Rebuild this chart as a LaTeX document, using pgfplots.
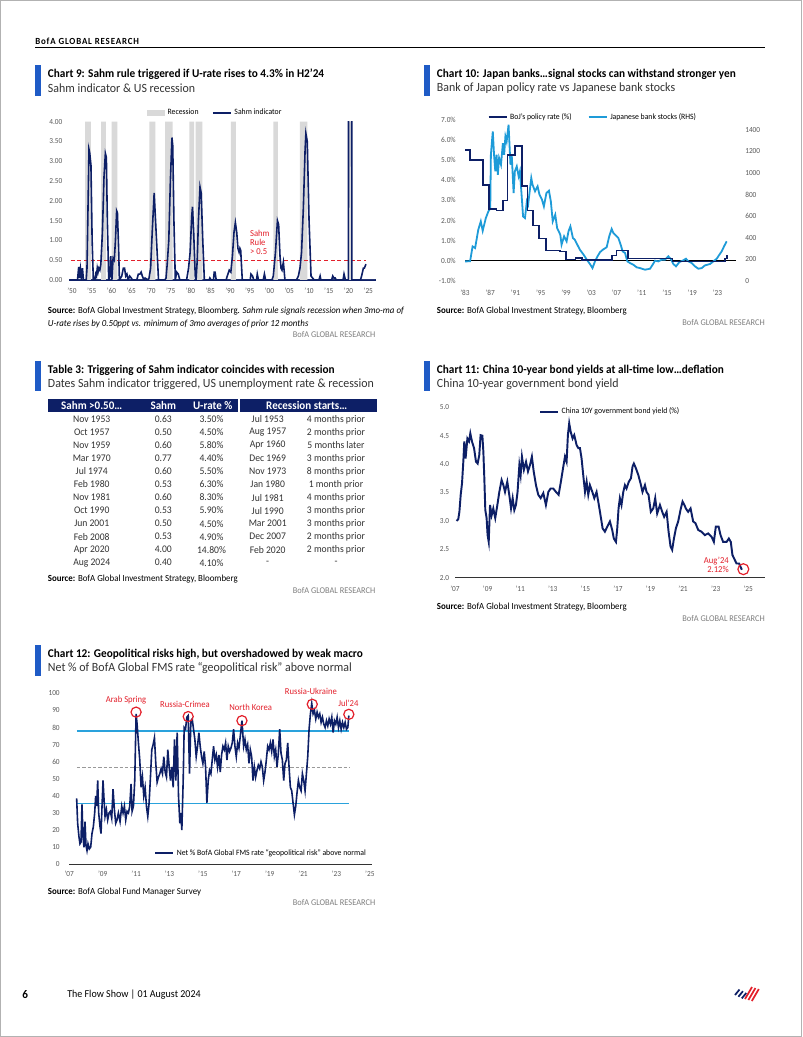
\documentclass[border=0pt]{standalone}
\usepackage{fontspec}
\setmainfont{Carlito}[FakeStretch=0.95]
\usepackage{pgfplots}
\pgfplotsset{compat=1.18}
\definecolor{navy}{HTML}{0D1F66}
\definecolor{accent}{HTML}{1F5BC6}
\definecolor{lblue}{HTML}{1E9BD8}
\definecolor{cyanl}{HTML}{2AA2DC}
\definecolor{bred}{HTML}{E3202B}
\definecolor{recg}{HTML}{D9D9D9}
\definecolor{tickg}{HTML}{595959}
\definecolor{srcg}{HTML}{7F7F7F}
\definecolor{subg}{HTML}{333333}
\definecolor{axg}{HTML}{333333}
\newcommand\ttlfont{\fontsize{8.9}{11}\selectfont\bfseries}
\newcommand\subfont{\fontsize{9.4}{11}\selectfont}
\newcommand\srcfont{\fontsize{7}{9.2}\selectfont}
\newcommand\lf{\fontsize{6.1}{7}\selectfont}
\newcommand\tf{\fontsize{5.8}{6}\selectfont}
\newcommand\annf{\fontsize{6.8}{7.1}\selectfont}
\newcommand\tabf{\fontsize{7.6}{9}\selectfont}
\newcommand\brandf{\fontsize{6.6}{7}\selectfont}
\newcommand\charthead[4]{%
  \fill[accent] (#1,#2) rectangle ++(5.7,30.7);
  \node[anchor=west, inner sep=0pt, font=\ttlfont] at (#1+12.7,#2+9.3) {#3};
  \node[anchor=west, inner sep=0pt, font=\subfont, text=subg] at (#1+12.7,#2+23.3) {#4};}
\pgfplotsset{
  bofa/.style={
    scale only axis, anchor=south west,
    axis x line*=bottom, axis y line*=left,
    y axis line style={draw=none},
    x axis line style={-, draw=axg, line width=0.7pt},
    major tick length=0pt,
    tick style={draw=none},
    ticklabel style={font=\tf, text=tickg},
    /pgf/number format/assume math mode=true,
    xticklabel style={anchor=north, inner sep=0pt},
    legend style={draw=none, fill=none, font=\lf, inner sep=0pt, legend cell align=left},
    legend image code/.code={\draw[##1, line width=1.4pt] (0pt,0pt) -- (13.5pt,0pt);},
  }
}
\begin{document}
\begin{tikzpicture}[x=0.75pt,y=-0.75pt]
\useasboundingbox (0,0) rectangle (802,1037);
\fill[white] (0,0) rectangle (802,1037);
\draw[gray!60, line width=0.8pt] (0.5,0.5) rectangle (801.5,1036.5);
% header
\node[anchor=west, inner sep=0pt, font={\fontsize{7}{8}\selectfont\bfseries\addfontfeature{LetterSpace=9}}] at (35,41) {BofA GLOBAL RESEARCH};
\draw[black, line width=0.75pt] (35,48) -- (765,48);

% ---------------- Chart 9
\charthead{35}{65}{Chart 9: Sahm rule triggered if U-rate rises to 4.3\% in H2'24}{Sahm indicator \& US recession}
\begin{axis}[bofa, at={(51.975pt,-210pt)}, width=229.8pt, height=118.7pt,
  xmin=1949.32, xmax=2026.87, ymin=0, ymax=4,
  xtick={1950,1955,...,2025},
  xticklabels={'50,'55,'60,'65,'70,'75,'80,'85,'90,'95,'00,'05,'10,'15,'20,'25},
  xticklabel style={yshift=-5.5pt},
  ytick={0,0.5,1,1.5,2,2.5,3,3.5,4},
  yticklabels={0.00,0.50,1.00,1.50,2.00,2.50,3.00,3.50,4.00},
  yticklabel style={anchor=east, inner sep=0pt, xshift=-5pt},
  x axis line style={-, draw=navy, line width=0.8pt},
  clip mode=individual,
  legend columns=2,
  legend style={at={(0.2526,1.055)}, anchor=west, /tikz/every even column/.append style={column sep=8pt}}]
\addplot[fill=recg, draw=none, const plot,
  legend image code/.code={\fill[recg] (0pt,-2.3pt) rectangle (13.5pt,2.3pt);}]
  coordinates {(1949.32,0)(1953.3,4)(1954.8,0)(1957.35,4)(1958.6,0)(1960.05,4)(1961.5,0)(1969.6,4)(1971.1,0)(1973.6,4)(1975.5,0)(1979.7,4)(1980.9,0)(1981.3,4)(1983.0,0)(1990.2,4)(1991.5,0)(2001.0,4)(2002.1,0)(2007.7,4)(2009.6,0)(2020.0,4)(2020.6,0)(2026.87,0)} \closedcycle;
\addlegendentry{Recession}
\addplot[bred, line width=1pt, dash pattern=on 3pt off 2pt, forget plot] coordinates {(1949.7,0.5)(2024.3,0.5)};
\addplot[navy, line width=1.2pt] coordinates {(1949.4,0)(1951.4,0)(1951.7,0.33)(1951.9,0.05)(1952.15,0.28)(1952.4,0.05)(1952.65,0.3)(1952.9,0)(1953.6,0)(1953.8,0.3)(1954.0,1.5)(1954.3,3.3)(1954.5,3.2)(1954.8,2.9)(1955.1,1.0)(1955.4,0)(1955.8,0)(1956.0,0.15)(1956.2,0.1)(1956.4,0.3)(1956.6,0.2)(1956.8,0.3)(1957.05,0.25)(1957.3,0.4)(1957.7,1.2)(1958.1,2.6)(1958.45,3.2)(1958.7,3.1)(1958.95,1.5)(1959.3,0)(1959.6,0.1)(1959.8,0.6)(1960.1,0)(1960.4,0.55)(1960.7,0.5)(1961.0,1.0)(1961.3,1.75)(1961.5,1.7)(1961.8,0.8)(1962.0,0)(1962.6,0.1)(1963.0,0.3)(1963.3,0.3)(1963.6,0.1)(1963.9,0.15)(1964.2,0)(1964.6,0.1)(1965.0,0.05)(1965.3,0)(1966.4,0)(1966.8,0.15)(1967.2,0.15)(1967.5,0.2)(1967.8,0.1)(1968.2,0)(1968.5,0.05)(1969.2,0)(1969.5,0.05)(1969.9,0.3)(1970.3,1.2)(1970.8,2.2)(1971.1,1.6)(1971.5,0.8)(1971.9,0)(1973.5,0)(1973.8,0.05)(1974.1,0.4)(1974.5,1.0)(1974.9,2.5)(1975.3,3.6)(1975.5,3.4)(1975.8,1.5)(1976.15,0)(1976.5,0.2)(1976.9,0.15)(1977.3,0)(1979.0,0)(1979.5,0.3)(1979.9,0.7)(1980.3,1.6)(1980.5,1.85)(1980.8,1.2)(1981.2,0.1)(1981.4,0)(1981.7,0.5)(1982.0,1.5)(1982.4,2.35)(1982.7,2.2)(1983.1,1.0)(1983.5,0)(1984.7,0)(1984.9,0.05)(1985.2,0)(1985.8,0)(1986.0,0.2)(1986.2,0.2)(1986.5,0)(1989.0,0)(1989.3,0.1)(1989.8,0.25)(1990.2,0.2)(1990.6,0.6)(1991.0,1.2)(1991.35,1.45)(1991.7,1.2)(1992.0,0.8)(1992.3,0.7)(1992.5,0.8)(1992.7,0.75)(1993.1,0)(1995.1,0)(1995.3,0.15)(1995.7,0.1)(1996.0,0)(1996.7,0)(1996.9,0.15)(1997.2,0)(1998.4,0)(1998.7,0.15)(1999.0,0)(2000.6,0)(2000.95,0.1)(2001.5,0.7)(2002.0,1.5)(2002.3,1.4)(2002.65,0.6)(2002.9,0.3)(2003.15,0.25)(2003.5,0.45)(2003.9,0)(2006.8,0)(2007.3,0.1)(2007.7,0.3)(2008.1,0.7)(2008.55,1.8)(2009.0,3.3)(2009.2,3.7)(2009.55,3.5)(2010.0,1.5)(2010.5,0.1)(2010.9,0.05)(2011.3,0)(2012.5,0)(2012.8,0.1)(2013.0,0)(2015.7,0)(2016.0,0.1)(2016.3,0.05)(2016.6,0.05)(2016.9,0)(2018.6,0)(2018.85,0.15)(2019.2,0)(2019.95,0)(2020.05,9)(2020.75,9)(2020.85,0)(2023.0,0)(2023.3,0.1)(2023.75,0.3)(2024.0,0.3)(2024.4,0.4)};
\addlegendentry{Sahm indicator}
\node[anchor=west, align=left, text=bred, font=\annf, inner sep=0pt] at (axis cs:1995.0,0.95) {Sahm\\Rule\\> 0.5};
\end{axis}
\node[anchor=north west, inner sep=0pt, align=left, font=\srcfont] at (47.7,307.2) {\textbf{Source:} BofA Global Investment Strategy, Bloomberg. \textit{Sahm rule signals recession when 3mo-ma of}\\\textit{U-rate rises by 0.50ppt vs. minimum of 3mo averages of prior 12 months}};
\node[anchor=east, inner sep=0pt, font=\brandf, text=srcg] at (375.5,335) {BofA GLOBAL RESEARCH};

% ---------------- Chart 10
\charthead{424}{65}{Chart 10: Japan banks…signal stocks can withstand stronger yen}{Bank of Japan policy rate vs Japanese bank stocks}
\begin{axis}[bofa, at={(347.25pt,-210.525pt)}, width=204.75pt, height=120.5pt,
  xmin=1982.68, xmax=2025.95, ymin=0, ymax=1490,
  axis x line=none, axis y line*=right, y axis line style={draw=none},
  ytick={0,200,400,600,800,1000,1200,1400},
  yticklabels={0,200,400,600,800,1000,1200,1400},
  yticklabel style={anchor=west, inner sep=0pt, xshift=6.75pt}]
\addplot[black, line width=0.55pt] coordinates {(1983,186.25)(2025.95,186.25)};
\addplot[lblue, line width=1.35pt] coordinates {(1983.0,179)(1983.8,180)(1984.2,318)(1984.6,303)(1985.1,473)(1985.5,550)(1985.8,463)(1986.3,581)(1986.7,643)(1987.0,671)(1987.1,1168)(1987.4,1385)(1987.6,1168)(1987.8,1014)(1988.0,1168)(1988.2,983)(1988.4,1137)(1988.7,1076)(1989.0,1276)(1989.2,1168)(1989.4,1338)(1989.6,1292)(1989.9,1446)(1990.0,1323)(1990.2,1076)(1990.4,1168)(1990.7,813)(1990.9,1014)(1991.2,1060)(1991.5,968)(1991.7,1014)(1992.0,767)(1992.2,596)(1992.5,581)(1992.8,736)(1993.0,706)(1993.5,952)(1993.7,890)(1994.1,829)(1994.5,875)(1994.8,798)(1995.2,751)(1995.5,689)(1995.9,813)(1996.3,835)(1996.6,736)(1996.9,550)(1997.3,612)(1997.6,488)(1998.1,427)(1998.3,334)(1998.7,411)(1999.1,365)(1999.4,458)(1999.7,504)(2000.1,396)(2000.4,380)(2000.8,334)(2001.2,288)(2001.8,241)(2002.3,195)(2002.8,155)(2003.2,117)(2003.6,179)(2004.0,226)(2004.4,265)(2004.9,290)(2005.45,310)(2005.87,415)(2006.24,480)(2006.51,442)(2006.77,427)(2007.3,396)(2007.67,334)(2007.98,272)(2008.36,257)(2008.73,179)(2009.15,164)(2009.68,148)(2010.21,124)(2010.73,117)(2011.53,102)(2012.32,111)(2012.74,148)(2013.11,186)(2013.64,179)(2014.17,195)(2014.69,195)(2015.22,226)(2015.59,204)(2016.02,155)(2016.44,133)(2016.97,173)(2017.5,186)(2018.02,204)(2018.39,179)(2018.92,164)(2019.45,133)(2019.98,111)(2020.51,117)(2021.03,142)(2021.83,155)(2022.36,179)(2022.89,204)(2023.31,241)(2023.68,272)(2024.05,318)(2024.47,365)};
\end{axis}
\begin{axis}[bofa, at={(347.25pt,-210.525pt)}, width=204.75pt, height=120.5pt,
  xmin=1982.68, xmax=2025.95, ymin=-1, ymax=7,
  x axis line style={draw=none},
  xtick={1983,1987,...,2023},
  xticklabels={'83,'87,'91,'95,'99,'03,'07,'11,'15,'19,'23},
  xticklabel style={yshift=-6.5pt},
  ytick={-1,0,1,2,3,4,5,6,7},
  yticklabels={-1.0\%,0.0\%,1.0\%,2.0\%,3.0\%,4.0\%,5.0\%,6.0\%,7.0\%},
  yticklabel style={anchor=east, inner sep=0pt, xshift=-5.25pt},
  legend columns=2,
  legend style={at={(0.089,1.017)}, anchor=west, /tikz/every even column/.append style={column sep=10pt}}]
\addplot[navy, line width=1.25pt, const plot] coordinates {(1983.0,5.5)(1983.8,5.0)(1985.9,3.75)(1986.8,2.58)(1988.0,2.5)(1989.0,3.0)(1989.75,5.25)(1990.9,5.7)(1992.0,3.7)(1992.9,2.5)(1993.8,1.75)(1994.75,1.1)(1995.8,0.5)(1998.1,0.45)(1999.0,0.05)(2000.5,0.12)(2001.5,0.02)(2006.3,0.25)(2007.0,0.5)(2008.85,0.1)(2015.9,-0.05)(2024.2,0.1)(2024.5,0.25)(2024.6,0.25)};
\addlegendentry{BoJ's policy rate (\%)}
\addlegendimage{lblue}
\addlegendentry{Japanese bank stocks (RHS)}
\end{axis}
\node[anchor=west, inner sep=0pt, font=\srcfont] at (436.7,311) {\textbf{Source:} BofA Global Investment Strategy, Bloomberg};
\node[anchor=east, inner sep=0pt, font=\brandf, text=srcg] at (765,323) {BofA GLOBAL RESEARCH};

% ---------------- Table 3
\charthead{35}{360.7}{Table 3: Triggering of Sahm indicator coincides with recession}{Dates Sahm indicator triggered, US unemployment rate \& recession}
\fill[navy] (47.7,399.3) rectangle (376.7,411.7);
\draw[white, line width=1.2pt] (239,399.3) -- (239,411.7);
\begin{scope}[every node/.style={inner sep=0pt, font=\fontsize{8.7}{9}\selectfont\bfseries, text=white}]
\node at (91.7,405.5) {Sahm >0.50…};
\node at (163.3,405.5) {Sahm};
\node at (212.7,405.5) {U-rate \%};
\node at (306.7,405.5) {Recession starts…};
\end{scope}
\foreach \a/\b/\c/\d/\e [count=\i from 0] in {Nov 1953/0.63/3.50\%/Jul 1953/4 months prior,Oct 1957/0.50/4.50\%/Aug 1957/2 months prior,Nov 1959/0.60/5.80\%/Apr 1960/5 months later,Mar 1970/0.77/4.40\%/Dec 1969/3 months prior,Jul 1974/0.60/5.50\%/Nov 1973/8 months prior,Feb 1980/0.53/6.30\%/Jan 1980/1 month prior,Nov 1981/0.60/8.30\%/Jul 1981/4 months prior,Oct 1990/0.53/5.90\%/Jul 1990/3 months prior,Jun 2001/0.50/4.50\%/Mar 2001/3 months prior,Feb 2008/0.53/4.90\%/Dec 2007/2 months prior,Apr 2020/4.00/14.80\%/Feb 2020/2 months prior,Aug 2024/0.40/4.10\%/-/-}{
  \begin{scope}[every node/.style={inner sep=0pt, font=\tabf, text=subg}]
  \node at (91.7,419.3+13.04*\i) {\a};
  \node at (163.3,419.3+13.04*\i) {\b};
  \node at (211.5,419.3+13.04*\i) {\c};
  \node at (267.7,419.3+13.04*\i) {\d};
  \node at (336,419.3+13.04*\i) {\e};
  \end{scope}
}
\node[anchor=west, inner sep=0pt, font=\srcfont] at (47.7,579.3) {\textbf{Source:} BofA Global Investment Strategy, Bloomberg};
\node[anchor=east, inner sep=0pt, font=\brandf, text=srcg] at (375.5,590.7) {BofA GLOBAL RESEARCH};

% ---------------- Chart 11
\charthead{424}{360.7}{Chart 11: China 10-year bond yields at all-time low…deflation}{China 10-year government bond yield}
\begin{axis}[bofa, at={(341.25pt,-433.275pt)}, width=232.5pt, height=127.8pt,
  xmin=2007, xmax=2026.03, ymin=2, ymax=5,
  xtick={2007,2009,...,2025},
  xticklabels={'07,'09,'11,'13,'15,'17,'19,'21,'23,'25},
  xticklabel style={yshift=-5.7pt},
  ytick={2,2.5,3,3.5,4,4.5,5},
  yticklabels={2.0,2.5,3.0,3.5,4.0,4.5,5.0},
  yticklabel style={anchor=east, inner sep=0pt, xshift=-4.2pt},
  clip=false,
  legend style={at={(0.2705,0.974)}, anchor=west}]
\addplot[navy, line width=1.45pt] coordinates {(2007.10,3.00)(2007.20,3.03)(2007.27,3.16)(2007.35,3.46)(2007.43,3.66)(2007.51,4.04)(2007.57,4.40)(2007.65,4.10)(2007.76,4.45)(2007.86,4.40)(2007.94,4.54)(2008.04,4.40)(2008.17,4.28)(2008.29,4.04)(2008.39,4.01)(2008.49,4.16)(2008.57,4.51)(2008.68,4.50)(2008.74,4.22)(2008.80,3.75)(2008.86,3.19)(2008.94,3.05)(2009.00,2.75)(2009.07,2.63)(2009.15,3.28)(2009.25,3.10)(2009.35,3.22)(2009.47,3.05)(2009.60,3.28)(2009.72,3.51)(2009.86,3.72)(2009.97,3.63)(2010.07,3.51)(2010.21,3.69)(2010.33,3.46)(2010.44,3.22)(2010.54,3.40)(2010.64,3.19)(2010.74,3.28)(2010.84,3.51)(2010.95,3.98)(2011.03,3.81)(2011.11,4.13)(2011.23,3.90)(2011.36,4.04)(2011.48,3.87)(2011.60,3.98)(2011.72,4.13)(2011.83,3.87)(2011.97,3.63)(2012.11,3.46)(2012.26,3.40)(2012.42,3.49)(2012.58,3.28)(2012.73,3.51)(2012.87,3.57)(2013.03,3.57)(2013.20,3.51)(2013.36,3.46)(2013.50,3.69)(2013.65,3.96)(2013.75,4.13)(2013.85,4.04)(2013.93,4.51)(2014.01,4.72)(2014.10,4.57)(2014.22,4.45)(2014.32,4.51)(2014.46,4.34)(2014.57,4.28)(2014.67,4.28)(2014.77,4.10)(2014.87,3.81)(2014.98,3.51)(2015.08,3.69)(2015.18,3.46)(2015.28,3.63)(2015.43,3.51)(2015.55,3.40)(2015.69,3.51)(2015.83,3.28)(2015.96,3.05)(2016.06,2.87)(2016.20,2.81)(2016.35,2.90)(2016.51,2.99)(2016.65,2.84)(2016.75,2.69)(2016.88,2.63)(2016.96,2.87)(2017.04,3.22)(2017.12,3.40)(2017.22,3.28)(2017.33,3.51)(2017.43,3.63)(2017.53,3.57)(2017.67,3.69)(2017.80,3.75)(2017.90,3.96)(2017.98,4.01)(2018.10,3.93)(2018.25,3.81)(2018.39,3.66)(2018.51,3.51)(2018.66,3.63)(2018.76,3.51)(2018.88,3.46)(2019.02,3.16)(2019.17,3.22)(2019.29,3.40)(2019.41,3.13)(2019.58,3.28)(2019.72,3.16)(2019.84,3.07)(2019.99,3.16)(2020.11,2.81)(2020.23,2.55)(2020.33,2.49)(2020.44,2.69)(2020.56,2.87)(2020.70,2.99)(2020.84,3.19)(2020.97,3.34)(2021.08,3.28)(2021.17,3.22)(2021.31,3.16)(2021.46,3.22)(2021.62,2.99)(2021.76,2.96)(2021.93,2.84)(2022.13,2.81)(2022.34,2.75)(2022.54,2.78)(2022.75,2.72)(2022.89,2.63)(2023.01,2.90)(2023.18,2.90)(2023.30,2.75)(2023.46,2.63)(2023.67,2.63)(2023.81,2.69)(2023.93,2.63)(2024.03,2.40)(2024.18,2.31)(2024.28,2.25)(2024.44,2.25)(2024.53,2.19)(2024.61,2.14)};
\addlegendentry{China 10Y government bond yield (\%)}
\addplot[only marks, mark=o, mark size=4.1pt, mark options={draw=bred, line width=0.9pt}, forget plot] coordinates {(2024.70,2.15)};
\node[anchor=east, align=right, text=bred, font=\annf, inner sep=0pt] at (axis cs:2023.82,2.227) {Aug'24\\2.12\%};
\end{axis}
\node[anchor=west, inner sep=0pt, font=\srcfont] at (436.7,607) {\textbf{Source:} BofA Global Investment Strategy, Bloomberg};
\node[anchor=east, inner sep=0pt, font=\brandf, text=srcg] at (765,619) {BofA GLOBAL RESEARCH};

% ---------------- Chart 12
\charthead{35}{645}{Chart 12: Geopolitical risks high, but overshadowed by weak macro}{Net \% of BofA Global FMS rate ``geopolitical risk'' above normal}
\begin{axis}[bofa, at={(51.975pt,-648.225pt)}, width=226.8pt, height=128.25pt,
  xmin=2007, xmax=2025.11, ymin=0, ymax=100,
  xtick={2007,2009,...,2025},
  xticklabels={'07,'09,'11,'13,'15,'17,'19,'21,'23,'25},
  xticklabel style={yshift=-4.95pt},
  ytick={0,10,...,100},
  yticklabels={0,10,20,30,40,50,60,70,80,90,100},
  yticklabel style={anchor=east, inner sep=0pt, xshift=-7pt},
  clip=false,
  legend style={at={(0.28,0.064)}, anchor=west}]
\addplot[cyanl, line width=1.1pt, forget plot] coordinates {(2007.46,78)(2023.77,78)};
\addplot[cyanl, line width=1.1pt, forget plot] coordinates {(2007.46,35.7)(2023.77,35.7)};
\addplot[gray!80, line width=0.7pt, dash pattern=on 2.5pt off 1.5pt, forget plot] coordinates {(2007.46,56.7)(2023.77,56.7)};
\addplot[navy, line width=1.2pt] coordinates {(2007.44,38.6)(2007.50,24)(2007.58,16)(2007.64,12)(2007.70,13)(2007.76,35)(2007.82,16)(2007.88,10)(2007.94,25)(2008.00,11)(2008.06,8)(2008.12,12)(2008.20,9)(2008.28,10)(2008.36,18)(2008.44,22)(2008.52,30)(2008.58,40)(2008.64,34)(2008.70,49)(2008.76,30)(2008.84,22)(2008.90,18)(2008.96,34)(2009.02,49)(2009.08,38)(2009.14,28)(2009.22,32)(2009.30,26)(2009.38,30)(2009.46,31)(2009.54,27)(2009.62,44)(2009.70,32)(2009.78,24)(2009.86,26)(2009.94,30)(2010.04,25)(2010.14,34)(2010.22,30)(2010.30,34)(2010.38,26)(2010.46,31)(2010.54,30)(2010.62,34)(2010.70,47)(2010.76,31)(2010.84,34)(2010.92,49)(2011.00,88)(2011.06,82)(2011.14,71)(2011.22,61)(2011.30,45)(2011.38,51)(2011.46,40)(2011.54,45)(2011.62,34)(2011.70,28)(2011.78,36)(2011.86,51)(2011.94,67)(2012.02,70)(2012.10,74)(2012.18,59)(2012.26,48)(2012.34,51)(2012.42,53)(2012.50,56)(2012.58,53)(2012.66,63)(2012.74,54)(2012.82,51)(2012.90,67)(2012.98,57)(2013.06,49)(2013.14,57)(2013.22,45)(2013.30,73)(2013.38,49)(2013.46,77)(2013.54,40)(2013.62,24)(2013.68,30)(2013.74,20)(2013.82,49)(2013.88,80)(2013.96,79)(2014.04,86)(2014.12,87)(2014.20,53)(2014.28,84)(2014.36,85)(2014.44,79)(2014.52,73)(2014.60,63)(2014.68,69)(2014.76,77)(2014.84,69)(2014.92,63)(2015.00,59)(2015.08,66)(2015.16,57)(2015.24,36)(2015.32,49)(2015.40,55)(2015.48,53)(2015.56,61)(2015.64,69)(2015.72,61)(2015.80,64)(2015.88,57)(2015.96,64)(2016.04,54)(2016.12,64)(2016.20,69)(2016.28,67)(2016.36,71)(2016.44,61)(2016.52,69)(2016.60,66)(2016.68,68)(2016.76,71)(2016.84,79)(2016.92,69)(2017.00,63)(2017.08,71)(2017.16,68)(2017.24,75)(2017.34,84)(2017.44,69)(2017.52,73)(2017.60,67)(2017.68,70)(2017.76,59)(2017.84,67)(2017.92,63)(2018.00,49)(2018.08,57)(2018.16,51)(2018.24,55)(2018.32,58)(2018.40,56)(2018.48,60)(2018.56,57)(2018.64,49)(2018.72,54)(2018.80,61)(2018.88,69)(2018.96,67)(2019.04,71)(2019.12,66)(2019.20,73)(2019.28,63)(2019.36,67)(2019.44,57)(2019.52,65)(2019.60,79)(2019.68,65)(2019.76,61)(2019.84,49)(2019.92,59)(2020.00,61)(2020.08,71)(2020.16,57)(2020.24,45)(2020.32,43)(2020.40,36)(2020.48,29)(2020.56,34)(2020.64,42)(2020.72,49)(2020.80,45)(2020.88,43)(2020.96,53)(2021.04,49)(2021.12,43)(2021.20,53)(2021.28,63)(2021.36,79)(2021.44,88)(2021.52,94)(2021.60,88)(2021.68,90)(2021.76,85)(2021.84,89)(2021.92,86)(2022.00,88)(2022.08,83)(2022.16,86)(2022.24,82)(2022.32,80)(2022.40,84)(2022.48,81)(2022.56,85)(2022.64,82)(2022.72,86)(2022.80,77)(2022.88,84)(2022.96,82)(2023.04,86)(2023.12,80)(2023.20,84)(2023.28,79)(2023.36,83)(2023.44,80)(2023.52,83)(2023.60,79)(2023.68,80)(2023.74,87)};
\addlegendentry{Net \% BofA Global FMS rate ``geopolitical risk'' above normal}
\addplot[only marks, mark=o, mark size=3.8pt, mark options={draw=bred, line width=0.9pt}, forget plot] coordinates {(2011.0,89)(2014.12,86.4)(2017.34,84)(2021.55,93.6)(2023.74,87.7)};
\begin{scope}[every node/.style={text=bred, font=\annf, inner sep=0pt}]
\node at (axis cs:2010.40,96.1) {Arab Spring};
\node at (axis cs:2013.93,93.7) {Russia-Crimea};
\node at (axis cs:2017.86,91.6) {North Korea};
\node at (axis cs:2021.47,100.9) {Russia-Ukraine};
\node at (axis cs:2023.71,94.2) {Jul'24};
\end{scope}
\end{axis}
\node[anchor=west, inner sep=0pt, font=\srcfont] at (47.7,891.7) {\textbf{Source:} BofA Global Fund Manager Survey};
\node[anchor=east, inner sep=0pt, font=\brandf, text=srcg] at (375.5,902.7) {BofA GLOBAL RESEARCH};

% ---------------- footer
\node[anchor=west, inner sep=0pt, font=\fontsize{8.8}{10}\selectfont\bfseries] at (22,995) {6};
\node[anchor=west, inner sep=0pt, font=\fontsize{7.9}{10}\selectfont] at (67,995) {The Flow Show | 01 August 2024};
\foreach \d in {0,3.4,6.8}{\draw[navy, line width=1.3pt] (735+\d,995+0.5*\d) -- (739.5+\d,989.5+0.5*\d);}
\foreach \d in {0,3.4,6.8}{\draw[bred, line width=1.3pt] (745+\d,999+0.3*\d) -- (752+\d,987+0.3*\d);}
\end{tikzpicture}
\end{document}
